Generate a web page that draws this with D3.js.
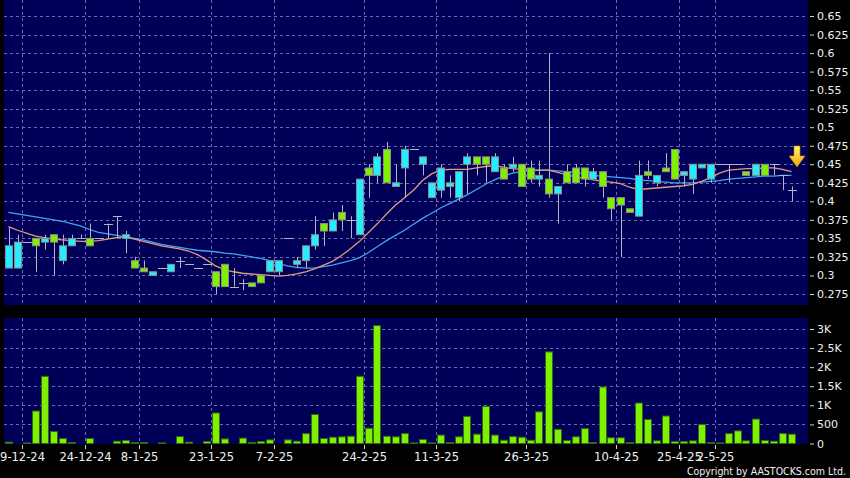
<!DOCTYPE html>
<html>
<head>
<meta charset="utf-8">
<script src="https://cdn.jsdelivr.net/npm/d3@7"></script>
<style>
  html, body { margin: 0; padding: 0; background: #000; }
  svg { display: block; }
  text { font-family: "DejaVu Sans", sans-serif; }
</style>
</head>
<body>
<svg id="chart" width="850" height="478"></svg>
<script>
// ---------- DATA ----------
const opens  = [0.31,0.31,0.345,0.35,0.345,0.355,0.32,0.34,0.35,0.35,0.35,0.37,0.38,0.35,0.32,0.31,0.30,0.31,0.305,0.32,0.315,0.31,0.315,0.305,0.315,0.285,0.29,0.29,0.30,0.305,0.305,0.35,0.315,0.32,0.34,0.37,0.36,0.385,0.375,0.355,0.445,0.435,0.47,0.42,0.445,0.47,0.45,0.405,0.415,0.42,0.405,0.45,0.46,0.46,0.44,0.445,0.445,0.45,0.445,0.43,0.43,0.41,0.44,0.445,0.445,0.43,0.44,0.405,0.405,0.39,0.38,0.44,0.425,0.445,0.47,0.435,0.43,0.445,0.43,0.45,0.45,0.45,0.44,0.435,0.45,0.45,0.435,0.415];
const highs  = [0.365,0.355,0.345,0.35,0.355,0.355,0.355,0.355,0.355,0.37,0.35,0.37,0.38,0.36,0.325,0.32,0.305,0.31,0.315,0.325,0.315,0.31,0.315,0.305,0.315,0.31,0.295,0.29,0.30,0.32,0.32,0.35,0.325,0.34,0.38,0.37,0.385,0.395,0.38,0.43,0.45,0.465,0.48,0.45,0.475,0.47,0.46,0.425,0.45,0.435,0.44,0.465,0.46,0.46,0.465,0.45,0.46,0.45,0.455,0.455,0.60,0.42,0.45,0.45,0.445,0.445,0.44,0.405,0.405,0.39,0.455,0.455,0.435,0.465,0.47,0.44,0.45,0.45,0.45,0.45,0.45,0.45,0.44,0.45,0.45,0.45,0.435,0.42];
const lows   = [0.31,0.31,0.345,0.305,0.335,0.30,0.315,0.34,0.35,0.34,0.35,0.35,0.35,0.33,0.31,0.305,0.30,0.31,0.305,0.31,0.315,0.31,0.315,0.275,0.285,0.285,0.28,0.285,0.29,0.305,0.30,0.35,0.31,0.31,0.335,0.34,0.36,0.36,0.35,0.355,0.405,0.425,0.425,0.42,0.405,0.47,0.435,0.405,0.405,0.405,0.40,0.41,0.435,0.425,0.44,0.43,0.44,0.42,0.425,0.42,0.405,0.37,0.425,0.425,0.42,0.43,0.405,0.375,0.325,0.385,0.38,0.43,0.42,0.44,0.43,0.42,0.41,0.445,0.425,0.45,0.425,0.45,0.435,0.435,0.435,0.435,0.415,0.40];
const closes = [0.34,0.345,0.345,0.34,0.35,0.345,0.34,0.35,0.35,0.34,0.35,0.37,0.38,0.355,0.31,0.305,0.305,0.31,0.315,0.32,0.315,0.31,0.315,0.285,0.285,0.285,0.29,0.285,0.29,0.32,0.32,0.35,0.32,0.34,0.355,0.36,0.375,0.375,0.375,0.43,0.435,0.46,0.425,0.425,0.47,0.47,0.46,0.425,0.445,0.425,0.44,0.46,0.45,0.45,0.46,0.43,0.45,0.42,0.43,0.435,0.41,0.42,0.425,0.425,0.43,0.44,0.42,0.39,0.395,0.385,0.435,0.435,0.435,0.44,0.43,0.44,0.45,0.45,0.45,0.45,0.45,0.45,0.435,0.45,0.435,0.45,0.435,0.415];
const volumes = [35,0,15,850,1760,314,130,25,0,130,0,0,60,80,25,25,0,15,0,180,35,0,50,800,120,0,140,25,50,95,0,95,60,260,760,130,165,175,190,1760,400,3090,190,175,260,15,105,15,220,25,175,710,245,970,220,85,180,165,85,830,2400,370,80,175,390,25,1480,150,150,25,1060,630,70,720,50,50,70,500,25,15,260,330,70,640,80,60,260,245];
// moving averages (short = salmon, long = blue)
const maShort = [0.366,0.361,0.357,0.353,0.351,0.349,0.348,0.347,0.346,0.346,0.347,0.349,0.351,0.352,0.349,0.346,0.343,0.340,0.338,0.336,0.333,0.328,0.321,0.313,0.308,0.305,0.303,0.302,0.301,0.300,0.299,0.300,0.302,0.305,0.309,0.314,0.319,0.327,0.336,0.346,0.358,0.370,0.383,0.395,0.405,0.415,0.428,0.437,0.442,0.443,0.443,0.443,0.445,0.447,0.448,0.446,0.444,0.443,0.442,0.442,0.442,0.439,0.436,0.433,0.431,0.429,0.427,0.426,0.424,0.419,0.416,0.417,0.418,0.419,0.420,0.421,0.423,0.427,0.432,0.438,0.442,0.443,0.444,0.444,0.445,0.445,0.443,0.440];
const maLong  = [0.385,0.383,0.381,0.379,0.377,0.375,0.373,0.370,0.367,0.362,0.358,0.356,0.354,0.352,0.350,0.348,0.345,0.342,0.340,0.338,0.336,0.334,0.333,0.332,0.330,0.329,0.327,0.325,0.323,0.320,0.316,0.313,0.311,0.310,0.310,0.312,0.314,0.317,0.320,0.324,0.331,0.339,0.347,0.354,0.361,0.369,0.377,0.384,0.391,0.397,0.403,0.409,0.416,0.423,0.429,0.434,0.438,0.440,0.441,0.442,0.442,0.441,0.440,0.439,0.437,0.435,0.434,0.433,0.432,0.431,0.429,0.428,0.427,0.426,0.425,0.425,0.425,0.426,0.427,0.428,0.430,0.431,0.432,0.433,0.434,0.434,0.435,0.435];
const priceTicks = [0.275,0.3,0.325,0.35,0.375,0.4,0.425,0.45,0.475,0.5,0.525,0.55,0.575,0.6,0.625,0.65];
const volTicks = [0,500,1000,1500,2000,2500,3000];
const volTickLabels = ["0","500","1K","1.5K","2K","2.5K","3K"];
const dateTickSlots = [2,9,15,23,30,40,48,58,68,75,79];
const dateTickLabels = ["9-12-24","24-12-24","8-1-25","23-1-25","7-2-25","24-2-25","11-3-25","26-3-25","10-4-25","25-4-25","2-5-25"];

// ---------- LAYOUT ----------
const W = 850, H = 478;
const L = 4, R = 808;
const mainTop = 0, mainBot = 305;
const volTop = 318, volBot = 444;

const svg = d3.select("#chart");
svg.append("rect").attr("width", W).attr("height", H).attr("fill", "#000");

const n = opens.length;
const data = d3.range(n).map(i => ({i, o: opens[i], h: highs[i], l: lows[i], c: closes[i], v: volumes[i]}));

const x = d3.scaleLinear().domain([0, 87]).range([8.5, 791.5]);
const y = d3.scaleLinear().domain([0.275, 0.65]).range([294, 16]);
const yv = d3.scaleLinear().domain([0, 3000]).range([443.5, 329]);

const gridColor = "#6c6ca6";
const bg = "#000058";

// panels
svg.append("rect").attr("x", L).attr("y", mainTop).attr("width", R - L).attr("height", mainBot - mainTop).attr("fill", bg);
svg.append("rect").attr("x", L).attr("y", volTop).attr("width", R - L).attr("height", volBot - volTop).attr("fill", bg);

// grid - main
const gMain = svg.append("g");
gMain.selectAll("line.h").data(priceTicks).join("line")
  .attr("x1", L).attr("x2", R)
  .attr("y1", d => Math.round(y(d)) + 0.5).attr("y2", d => Math.round(y(d)) + 0.5)
  .attr("stroke", gridColor).attr("stroke-dasharray", "3,3").attr("stroke-width", 1);
gMain.selectAll("line.v").data(dateTickSlots).join("line")
  .attr("x1", d => Math.round(x(d - 0.5)) + 0.5).attr("x2", d => Math.round(x(d - 0.5)) + 0.5)
  .attr("y1", mainTop).attr("y2", mainBot)
  .attr("stroke", gridColor).attr("stroke-dasharray", "3,3").attr("stroke-width", 1);

// grid - volume
const gVol = svg.append("g");
gVol.selectAll("line.h").data(volTicks.slice(1)).join("line")
  .attr("x1", L).attr("x2", R)
  .attr("y1", d => Math.round(yv(d)) + 0.5).attr("y2", d => Math.round(yv(d)) + 0.5)
  .attr("stroke", gridColor).attr("stroke-dasharray", "3,3").attr("stroke-width", 1);
gVol.selectAll("line.v").data(dateTickSlots).join("line")
  .attr("x1", d => Math.round(x(d - 0.5)) + 0.5).attr("x2", d => Math.round(x(d - 0.5)) + 0.5)
  .attr("y1", volTop).attr("y2", volBot)
  .attr("stroke", gridColor).attr("stroke-dasharray", "3,3").attr("stroke-width", 1);

// MA lines
const lineGen = arr => d3.line().x((d, i) => x(i)).y(d => y(d)).curve(d3.curveLinear)(arr);
svg.append("path").attr("d", lineGen(maLong)).attr("fill", "none").attr("stroke", "#3fa4f0").attr("stroke-width", 1.3);
svg.append("path").attr("d", lineGen(maShort)).attr("fill", "none").attr("stroke", "#e29a7e").attr("stroke-width", 1.3);

// candles
const bw = 8;
const cg = svg.append("g");
cg.selectAll("line.wick").data(data).join("line")
  .attr("x1", d => Math.round(x(d.i)) + 0.5).attr("x2", d => Math.round(x(d.i)) + 0.5)
  .attr("y1", d => y(d.h)).attr("y2", d => y(d.l))
  .attr("stroke", "#b4b4c4").attr("stroke-width", 1);
cg.selectAll("rect.body").data(data.filter(d => d.o !== d.c)).join("rect")
  .attr("x", d => Math.round(x(d.i)) - bw / 2 + 0.5)
  .attr("y", d => y(Math.max(d.o, d.c)))
  .attr("width", bw - 1)
  .attr("height", d => Math.abs(y(d.o) - y(d.c)))
  .attr("fill", d => d.c > d.o ? "#22eeff" : "#7ff000")
  .attr("stroke", "#8c8c8c").attr("stroke-width", 1);
cg.selectAll("line.doji").data(data.filter(d => d.o === d.c)).join("line")
  .attr("x1", d => Math.round(x(d.i)) - bw / 2).attr("x2", d => Math.round(x(d.i)) + bw / 2 + 1)
  .attr("y1", d => Math.round(y(d.o)) + 0.5).attr("y2", d => Math.round(y(d.o)) + 0.5)
  .attr("stroke", "#b4b4c4").attr("stroke-width", 1);

// volume bars
svg.append("g").selectAll("rect").data(data.filter(d => d.v > 0)).join("rect")
  .attr("x", d => Math.round(x(d.i)) - bw / 2 + 0.5)
  .attr("y", d => yv(d.v))
  .attr("width", bw - 1)
  .attr("height", d => yv(0) - yv(d.v))
  .attr("fill", "#7ff000").attr("stroke", "#2f6a10").attr("stroke-width", 1);

// arrow marker at last candle
const lastI = n - 1;
const ax = x(lastI) + 5.5, ay = 146;
const defs = svg.append("defs");
const grad = defs.append("linearGradient").attr("id", "arrowGrad").attr("x1", 0).attr("y1", 0).attr("x2", 0).attr("y2", 1);
grad.append("stop").attr("offset", "0%").attr("stop-color", "#fff27a");
grad.append("stop").attr("offset", "100%").attr("stop-color", "#f0a800");
svg.append("path")
  .attr("d", `M${ax - 3},${ay} L${ax + 3},${ay} L${ax + 3},${ay + 10} L${ax + 8},${ay + 10} L${ax},${ay + 21} L${ax - 8},${ay + 10} L${ax - 3},${ay + 10} Z`)
  .attr("fill", "url(#arrowGrad)").attr("stroke", "#c98a00").attr("stroke-width", 0.6);

// axes
const textColor = "#f0f0f0";
const pAxis = svg.append("g").attr("transform", `translate(810,0)`)
  .call(d3.axisRight(y).tickValues(priceTicks).tickSize(4).tickPadding(3).tickFormat(d => String(+d.toFixed(3))));
const vAxis = svg.append("g").attr("transform", `translate(810,0)`)
  .call(d3.axisRight(yv).tickValues(volTicks).tickSize(4).tickPadding(3).tickFormat((d, i) => volTickLabels[i]));
const dAxis = svg.append("g").attr("transform", `translate(0,${volBot + 1})`)
  .call(d3.axisBottom(x).tickValues(dateTickSlots.map(s => s - 0.5)).tickSize(4).tickPadding(4).tickFormat((d, i) => dateTickLabels[i]));
[pAxis, vAxis, dAxis].forEach(g => {
  g.select(".domain").remove();
  g.selectAll(".tick line").attr("stroke", "#cfcfcf");
  g.selectAll(".tick text").attr("fill", textColor).style("font-family", "'DejaVu Sans', sans-serif");
});
pAxis.selectAll(".tick text").style("font-size", "11px");
vAxis.selectAll(".tick text").style("font-size", "11px");
dAxis.selectAll(".tick text").style("font-size", "11.5px");

svg.append("text").attr("x", 846).attr("y", 475).attr("text-anchor", "end")
  .attr("fill", textColor).style("font-size", "10.5px").style("font-family", "'DejaVu Sans Condensed', 'DejaVu Sans', sans-serif")
  .text("Copyright by AASTOCKS.com Ltd.");
</script>
</body>
</html>
